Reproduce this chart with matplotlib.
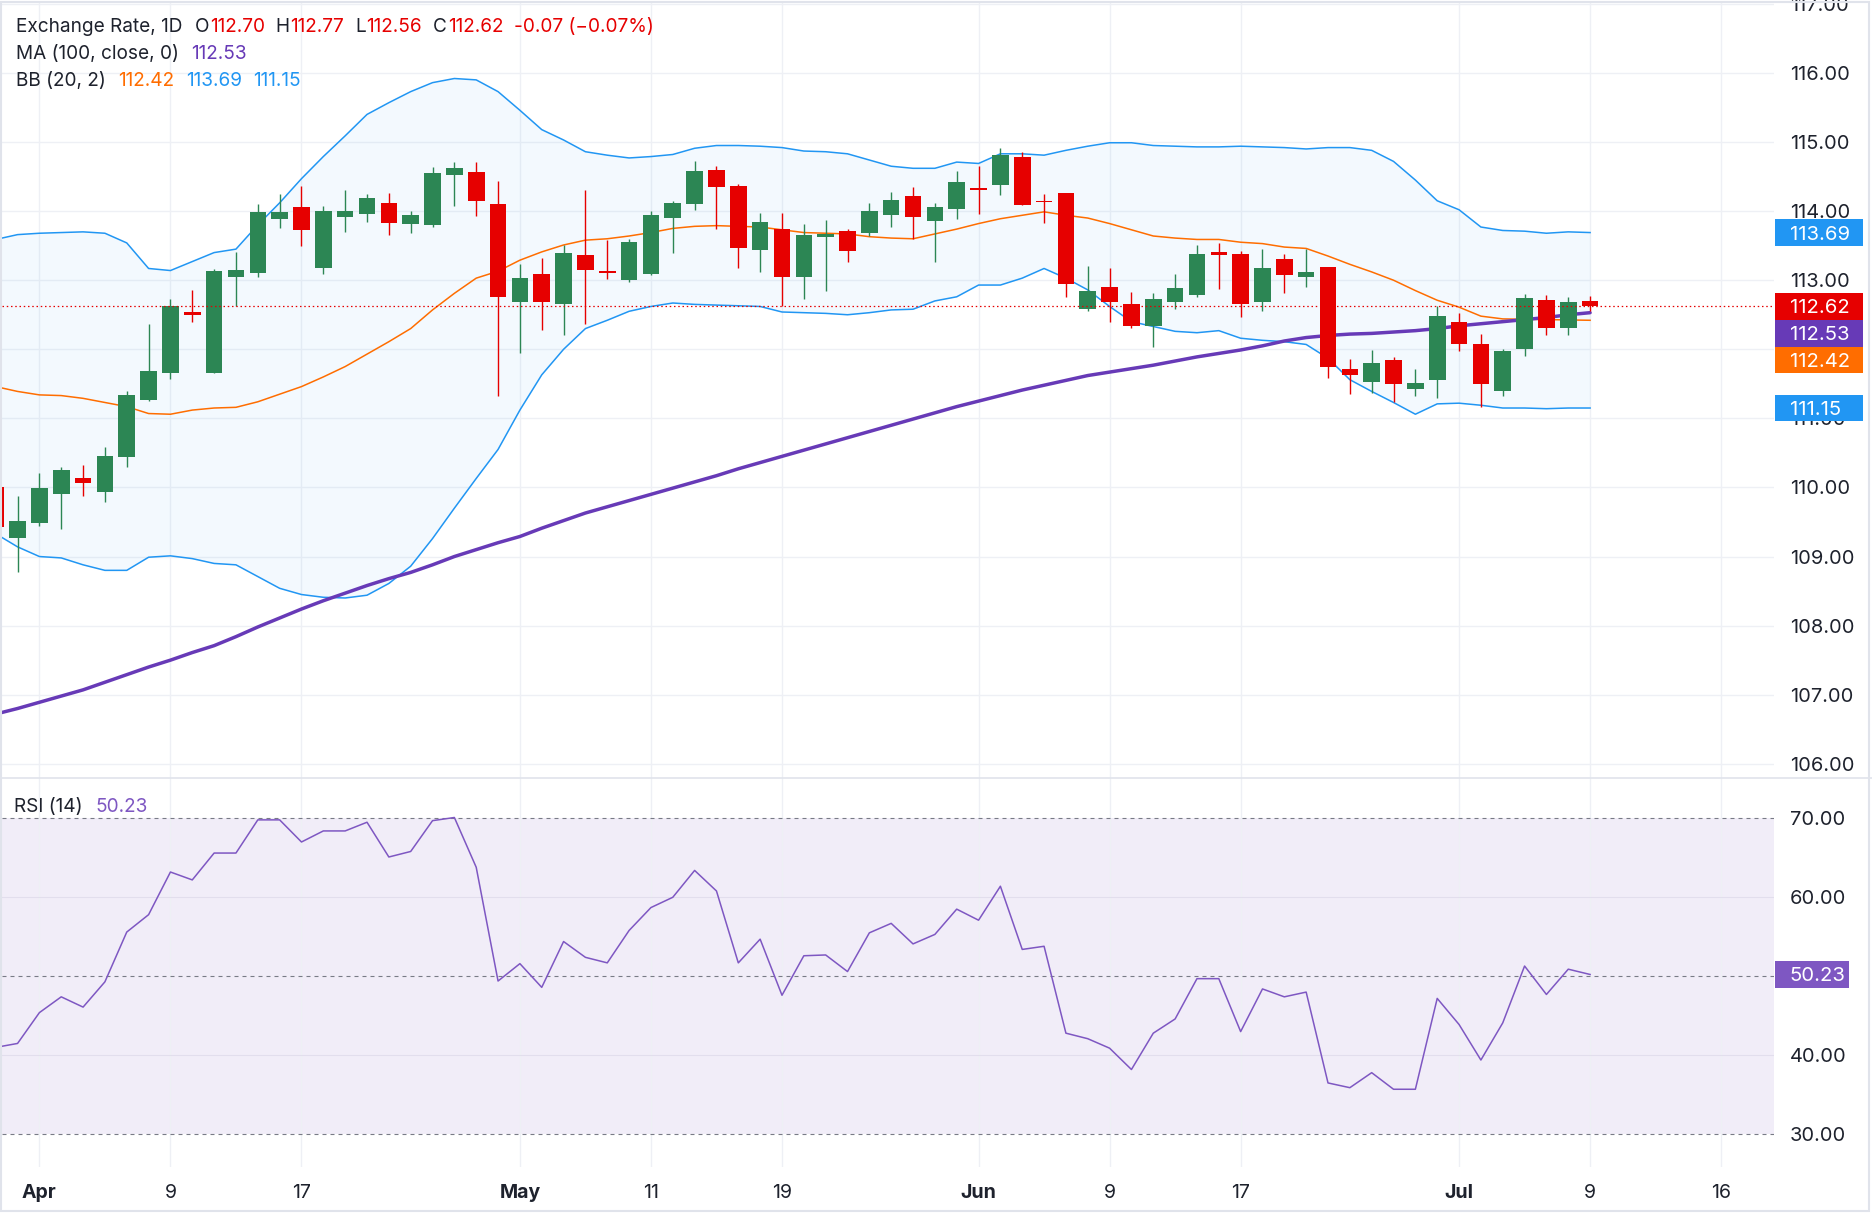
import numpy as np
import matplotlib
matplotlib.use("Agg")
import matplotlib.pyplot as plt
from matplotlib.patches import Rectangle
from matplotlib.lines import Line2D
from matplotlib.transforms import blended_transform_factory

plt.rcParams['font.family'] = ['Inter', 'DejaVu Sans']

W, H = 1872, 1223

#%% data (one value per daily bar)
opens = [110.00, 109.27, 109.49, 109.91, 110.13, 109.94, 110.44, 111.26, 111.65, 112.54,
         111.65, 113.05, 113.10, 113.88, 114.06, 113.18, 113.91, 113.96, 114.12, 113.82,
         113.80, 114.53, 114.57, 114.10, 112.69, 113.09, 112.65, 113.37, 113.13, 113.00,
         113.09, 113.90, 114.11, 114.60, 114.36, 113.44, 113.74, 113.05, 113.62, 113.71,
         113.68, 113.95, 114.22, 113.86, 114.03, 114.34, 114.38, 114.78, 114.15, 114.26,
         112.59, 112.90, 112.66, 112.34, 112.69, 112.78, 113.41, 113.38, 112.69, 113.31,
         113.05, 113.19, 111.72, 111.52, 111.85, 111.43, 111.56, 112.40, 112.08, 111.40,
         112.01, 112.71, 112.31, 112.70]
highs = [110.00, 109.87, 110.21, 110.29, 110.33, 110.59, 111.40, 112.37, 112.73, 112.86,
         113.16, 113.41, 114.10, 114.25, 114.37, 114.07, 114.31, 114.25, 114.26, 114.00,
         114.64, 114.71, 114.71, 114.44, 113.23, 113.32, 113.51, 114.31, 113.58, 113.60,
         114.00, 114.14, 114.73, 114.65, 114.39, 113.97, 113.97, 113.81, 113.87, 113.74,
         114.12, 114.28, 114.35, 114.12, 114.58, 114.65, 114.91, 114.86, 114.25, 114.26,
         113.21, 113.18, 112.83, 112.82, 113.09, 113.51, 113.54, 113.42, 113.45, 113.38,
         113.45, 113.19, 111.86, 111.99, 111.89, 111.72, 112.63, 112.53, 112.22, 112.01,
         112.80, 112.79, 112.76, 112.77]
lows = [109.38, 108.78, 109.44, 109.40, 109.88, 109.79, 110.30, 111.25, 111.57, 112.39,
        111.65, 112.62, 113.05, 113.76, 113.50, 113.09, 113.70, 113.84, 113.65, 113.69,
        113.77, 114.08, 113.93, 111.32, 111.94, 112.28, 112.20, 112.37, 113.02, 112.97,
        113.07, 113.40, 114.02, 113.74, 113.18, 113.12, 112.63, 112.73, 112.85, 113.27,
        113.64, 113.77, 113.59, 113.27, 113.89, 113.96, 114.23, 114.09, 113.83, 112.75,
        112.56, 112.39, 112.31, 112.04, 112.59, 112.76, 112.88, 112.47, 112.55, 112.81,
        112.90, 111.59, 111.35, 111.37, 111.24, 111.32, 111.29, 111.98, 111.16, 111.33,
        111.91, 112.21, 112.21, 112.56]
closes = [109.43, 109.51, 109.99, 110.25, 110.06, 110.46, 111.34, 111.69, 112.63, 112.50,
          113.13, 113.15, 113.99, 113.99, 113.73, 114.00, 114.00, 114.19, 113.83, 113.94,
          114.55, 114.62, 114.15, 112.76, 113.03, 112.68, 113.39, 113.15, 113.10, 113.55,
          113.94, 114.12, 114.58, 114.35, 113.47, 113.84, 113.05, 113.66, 113.67, 113.43,
          114.00, 114.16, 113.91, 114.06, 114.42, 114.30, 114.81, 114.09, 114.13, 112.94,
          112.84, 112.68, 112.33, 112.73, 112.89, 113.38, 113.37, 112.66, 113.18, 113.07,
          113.12, 111.74, 111.63, 111.80, 111.50, 111.51, 112.48, 112.07, 111.50, 111.98,
          112.74, 112.31, 112.69, 112.62]
last_change = -0.07
last_change_pct = -0.07

ma100 = [106.72, 106.80, 106.89, 106.98, 107.07, 107.18, 107.29, 107.40, 107.50, 107.61,
         107.71, 107.84, 107.98, 108.11, 108.24, 108.36, 108.47, 108.58, 108.68, 108.77,
         108.88, 109.00, 109.10, 109.20, 109.29, 109.41, 109.52, 109.63, 109.72, 109.81,
         109.90, 109.99, 110.08, 110.17, 110.27, 110.36, 110.45, 110.54, 110.63, 110.72,
         110.81, 110.90, 110.99, 111.08, 111.17, 111.25, 111.33, 111.41, 111.48, 111.55,
         111.62, 111.67, 111.72, 111.77, 111.83, 111.89, 111.94, 111.99, 112.05, 112.12,
         112.17, 112.20, 112.22, 112.23, 112.25, 112.27, 112.30, 112.34, 112.37, 112.40,
         112.43, 112.46, 112.50, 112.53]
bb_upper = [113.59, 113.66, 113.68, 113.69, 113.70, 113.68, 113.54, 113.17, 113.14, 113.27,
            113.40, 113.45, 113.80, 114.12, 114.47, 114.79, 115.09, 115.40, 115.57, 115.73,
            115.86, 115.92, 115.90, 115.73, 115.46, 115.18, 115.03, 114.86, 114.81, 114.77,
            114.79, 114.82, 114.91, 114.95, 114.95, 114.94, 114.92, 114.87, 114.86, 114.83,
            114.74, 114.65, 114.62, 114.62, 114.71, 114.69, 114.83, 114.83, 114.81, 114.88,
            114.94, 114.99, 114.99, 114.95, 114.94, 114.93, 114.93, 114.94, 114.93, 114.92,
            114.90, 114.92, 114.92, 114.88, 114.72, 114.45, 114.15, 114.02, 113.77, 113.72,
            113.71, 113.68, 113.70, 113.69]
bb_mid = [111.46, 111.39, 111.34, 111.33, 111.29, 111.23, 111.17, 111.07, 111.06, 111.12,
          111.15, 111.16, 111.24, 111.35, 111.46, 111.60, 111.75, 111.93, 112.11, 112.30,
          112.57, 112.81, 113.03, 113.13, 113.29, 113.41, 113.51, 113.58, 113.60, 113.64,
          113.69, 113.75, 113.78, 113.79, 113.78, 113.77, 113.73, 113.69, 113.68, 113.67,
          113.63, 113.61, 113.60, 113.67, 113.74, 113.82, 113.89, 113.94, 113.99, 113.94,
          113.90, 113.82, 113.73, 113.64, 113.61, 113.59, 113.59, 113.55, 113.53, 113.48,
          113.46, 113.35, 113.23, 113.12, 113.00, 112.85, 112.71, 112.61, 112.48, 112.44,
          112.435, 112.43, 112.425, 112.42]
bb_lower = [109.33, 109.14, 109.00, 108.98, 108.88, 108.80, 108.80, 108.99, 109.01, 108.97,
            108.90, 108.88, 108.71, 108.54, 108.45, 108.41, 108.40, 108.44, 108.61, 108.86,
            109.26, 109.70, 110.13, 110.55, 111.12, 111.63, 112.00, 112.30, 112.42, 112.55,
            112.62, 112.67, 112.65, 112.64, 112.63, 112.62, 112.54, 112.53, 112.52, 112.50,
            112.53, 112.57, 112.58, 112.70, 112.76, 112.93, 112.93, 113.03, 113.17, 113.03,
            112.86, 112.62, 112.40, 112.33, 112.26, 112.24, 112.27, 112.16, 112.13, 112.11,
            112.07, 111.87, 111.56, 111.39, 111.23, 111.06, 111.21, 111.22, 111.19, 111.15,
            111.15, 111.14, 111.15, 111.15]
rsi = [41.0, 41.5, 45.4, 47.4, 46.1, 49.3, 55.6, 57.8, 63.2, 62.2,
       65.6, 65.6, 69.8, 69.8, 67.0, 68.4, 68.4, 69.5, 65.1, 65.8,
       69.7, 70.1, 63.8, 49.4, 51.6, 48.6, 54.4, 52.4, 51.7, 55.8,
       58.7, 60.0, 63.4, 60.8, 51.7, 54.7, 47.6, 52.6, 52.7, 50.6,
       55.5, 56.7, 54.1, 55.3, 58.5, 57.1, 61.4, 53.4, 53.8, 42.8,
       42.1, 40.9, 38.2, 42.8, 44.6, 49.7, 49.7, 43.0, 48.4, 47.4,
       48.0, 36.5, 35.9, 37.8, 35.7, 35.7, 47.2, 43.9, 39.4, 44.1,
       51.3, 47.7, 50.9, 50.23]

tick_pos = [2, 8, 14, 24, 30, 36, 45, 51, 57, 67, 73, 79]
tick_lab = ['Apr', '9', '17', 'May', '11', '19', 'Jun', '9', '17', 'Jul', '9', '16']
months = ['Apr', 'May', 'Jun', 'Jul']
price_ticks = [106, 107, 108, 109, 110, 111, 113, 114, 115, 116, 117]
rsi_ticks = [30, 40, 60, 70]

#%% colours
UP = '#2c8654'
DOWN = '#e60000'
MA_C = '#673ab7'
MID_C = '#ff6d00'
BAND_C = '#2196f3'
RSI_C = '#7e57c2'
TXT = '#1e222d'
GRID = '#eef0f5'

#%% figure
fig = plt.figure(figsize=(W / 100, H / 100), dpi=100)
fig.patch.set_facecolor('white')

ax = fig.add_axes([2 / W, 1 - 778 / H, 1772 / W, 775 / H])
ax2 = fig.add_axes([2 / W, 1 - 1167 / H, 1772 / W, 389 / H], sharex=ax)

x = np.arange(len(closes))
o = np.array(opens); c = np.array(closes)
hi = np.array(highs); lo = np.array(lows)

# bollinger + MA
ax.fill_between(x, bb_lower, bb_upper, color=BAND_C, alpha=0.05, lw=0, zorder=1)
ax.plot(x, bb_upper, color=BAND_C, lw=1.1, zorder=2)
ax.plot(x, bb_lower, color=BAND_C, lw=1.1, zorder=2)
ax.plot(x, bb_mid, color=MID_C, lw=1.1, zorder=2)
ax.plot(x, ma100, color=MA_C, lw=2.5, zorder=2.5, solid_capstyle='round')

# candles
cols = np.where(c >= o, UP, DOWN)
ax.vlines(x, lo, hi, colors=cols, lw=1.0, zorder=3)
body = np.maximum(np.abs(c - o), 0.018)
ax.bar(x, body, bottom=np.minimum(o, c), width=0.76, color=cols, lw=0, zorder=4)

ax.axhline(closes[-1], color=DOWN, lw=0.9, ls=(0, (1.2, 2.2)), zorder=5)

ax.set_ylim(105.794, 117.013)
ax.set_xlim(0.288, 81.42)
ax.set_yticks(price_ticks)
ax.set_yticklabels([f'{v:.2f}' for v in price_ticks])
for v in range(106, 118):
    ax.axhline(v, color=GRID, lw=1.0, zorder=0.5)

# RSI panel
ax2.axhspan(30, 70, color=RSI_C, alpha=0.1, lw=0, zorder=0.2)
for lvl in (40, 60):
    ax2.axhline(lvl, color='#d9d5e6', lw=0.8, alpha=0.6, zorder=0.6)
for lvl in (30, 50, 70):
    ax2.axhline(lvl, color='#787b86', lw=0.8, ls=(0, (3.6, 3.6)), zorder=1)
ax2.plot(x, rsi, color=RSI_C, lw=1.1, zorder=3)
ax2.set_ylim(25.86, 75.10)
ax2.set_yticks(rsi_ticks)
ax2.set_yticklabels([f'{v:.2f}' for v in rsi_ticks])

for a in (ax, ax2):
    for s in a.spines.values():
        s.set_visible(False)
    a.yaxis.tick_right()
    a.tick_params(axis='y', length=0, pad=11.5, labelsize=14.4, labelcolor=TXT)
    a.tick_params(axis='x', length=0)
    a.set_xticks(tick_pos)
    a.grid(axis='x', color=GRID, lw=1.0, zorder=0.5)
    a.set_axisbelow(True)
ax.tick_params(axis='x', labelbottom=False)
ax2.set_xticklabels(tick_lab)
ax2.tick_params(axis='x', pad=12, labelsize=14, labelcolor=TXT)
for t in ax2.get_xticklabels():
    if t.get_text() in months:
        t.set_fontweight('bold')


#%% value tags on the right scale
def tag(axis, y, text, color, height, width):
    tr = blended_transform_factory(axis.transAxes, axis.transData)
    axis.add_patch(Rectangle((1.0006, y - height / 2), width, height, transform=tr,
                             facecolor=color, edgecolor='none', clip_on=False, zorder=8))
    axis.text(1.0088, y, text, transform=tr, color='white', fontsize=14.6,
              ha='left', va='center_baseline', clip_on=False, zorder=9)


tag_h = 26.7 / 69.08
tags = [(bb_upper[-1], BAND_C), (closes[-1], DOWN), (ma100[-1], MA_C),
        (bb_mid[-1], MID_C), (bb_lower[-1], BAND_C)]
prev = None
for val, col in sorted(tags, key=lambda t: -t[0]):
    ypos = val if prev is None else min(val, prev - tag_h)
    tag(ax, ypos, f'{val:.2f}', col, tag_h, 88 / 1772)
    prev = ypos

tag(ax2, rsi[-1], f'{rsi[-1]:.2f}', RSI_C, 26.7 / 7.9, 74 / 1772)


#%% legend texts in the top-left corners
def chain(axis, x0, ybase, pieces, size=13.7):
    first, col = pieces[0][0], pieces[0][1]
    prev = axis.text(x0 / W, 1 - ybase / H, first, color=col, fontsize=size,
                     va='baseline', transform=fig.transFigure, zorder=10)
    for txt, col, gap in pieces[1:]:
        prev = axis.annotate(txt, xy=(1, 0), xycoords=prev, xytext=(gap, 0),
                             textcoords='offset points', color=col, fontsize=size,
                             va='bottom', ha='left', annotation_clip=False, zorder=10)


chain(ax, 15.6, 32.3, [('Exchange Rate, 1D', TXT, 0),
                       ('O', TXT, 9.0), (f'{opens[-1]:.2f}', DOWN, 0.4),
                       ('H', TXT, 8.0), (f'{highs[-1]:.2f}', DOWN, 0.4),
                       ('L', TXT, 8.0), (f'{lows[-1]:.2f}', DOWN, 0.4),
                       ('C', TXT, 8.0), (f'{closes[-1]:.2f}', DOWN, 0.4),
                       (f'{last_change:.2f} (\u2212{abs(last_change_pct):.2f}%)', DOWN, 8.0)])
chain(ax, 15.6, 59.0, [('MA (100, close, 0)', TXT, 0), (f'{ma100[-1]:.2f}', MA_C, 9.0)])
chain(ax, 15.6, 86.0, [('BB (20, 2)', TXT, 0), (f'{bb_mid[-1]:.2f}', MID_C, 9.0),
                       (f'{bb_upper[-1]:.2f}', BAND_C, 8.6), (f'{bb_lower[-1]:.2f}', BAND_C, 8.2)])
chain(ax2, 14.4, 811.7, [('RSI (14)', TXT, 0), (f'{rsi[-1]:.2f}', RSI_C, 9.0)])

# frame and panel separator
fig.add_artist(Line2D([0, 1], [1 - 778 / H] * 2, transform=fig.transFigure,
                      color='#e0e3eb', lw=1.2))
fig.add_artist(Rectangle((1 / W, 1 - 1211 / H), 1868 / W, 1209 / H, transform=fig.transFigure,
                         facecolor='none', edgecolor='#e0e3eb', lw=1.5))

fig.savefig('out.png', dpi=100, facecolor='white')
